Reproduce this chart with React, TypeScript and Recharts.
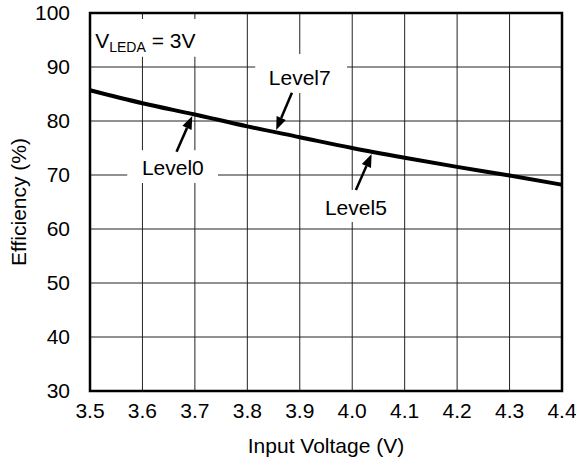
import React from "react"
import {
  LineChart,
  Line,
  XAxis,
  YAxis,
  CartesianGrid,
  ReferenceArea,
  ReferenceLine,
  ReferenceDot,
} from "recharts"

const voltage = [3.5, 3.6, 3.7, 3.8, 3.9, 4.0, 4.1, 4.2, 4.3, 4.4]
const efficiency = [85.7, 83.3, 81.2, 79.0, 77.0, 75.0, 73.2, 71.5, 69.9, 68.2]
const xTicks = [3.5, 3.6, 3.7, 3.8, 3.9, 4.0, 4.1, 4.2, 4.3, 4.4]
const yTicks = [30, 40, 50, 60, 70, 80, 90, 100]

// annotation text: label, x, baseline y (data units)
const noteNames = ["Level7", "Level0", "Level5"]
const noteX = [3.9, 3.658, 4.007]
const noteY = [86.7, 70.0, 62.6]

// white boxes behind the notes: [x1, x2, y1, y2]
const boxes = [
  [3.5, 3.72, 91.9, 98.9],
  [3.815, 3.99, 85.2, 92.4],
  [3.571, 3.744, 68.5, 74.6],
  [3.939, 4.076, 61.3, 67.2],
]

// arrows: tail -> tip
const arrows = [
  [3.885, 85.24, 3.855, 78.33],
  [3.665, 74.31, 3.695, 80.93],
  [4.007, 67.22, 4.037, 73.89],
]

const data = voltage.map((v, i) => ({ v, eff: efficiency[i] }))

const FONT = "'Liberation Sans', Arial, sans-serif"
const FS = 21

const Arrow = (props: any) => {
  const { x1, y1, x2, y2 } = props
  const dx = x2 - x1
  const dy = y2 - y1
  const len = Math.hypot(dx, dy) || 1
  const ux = dx / len
  const uy = dy / len
  const hl = 13
  const hw = 5
  const bx = x2 - ux * hl
  const by = y2 - uy * hl
  return (
    <g>
      <line x1={x1} y1={y1} x2={bx} y2={by} stroke="#000" strokeWidth={2.5} />
      <polygon
        points={`${x2},${y2} ${bx - uy * hw},${by + ux * hw} ${bx + uy * hw},${by - ux * hw}`}
        fill="#000"
      />
    </g>
  )
}

const noteShape = (text: string) => (p: any) => (
  <text x={p.cx} y={p.cy} textAnchor="middle" fontSize={FS} fontFamily={FONT} fill="#000">
    {text}
  </text>
)

const vledaShape = (p: any) => (
  <text x={p.cx} y={p.cy} fontSize={FS} fontFamily={FONT} fill="#000">
    V
    <tspan fontSize={14} dy={4}>LEDA</tspan>
    <tspan dy={-4}> = 3V</tspan>
  </text>
)

export default function App() {
  return (
    <div style={{ position: "absolute", left: 0, top: 0, width: 576, height: 468 }}>
      <LineChart
        width={576}
        height={468}
        data={data}
        margin={{ top: 13, right: 14, bottom: 17, left: 8 }}
      >
        <CartesianGrid stroke="#222" strokeWidth={1} />
        <XAxis
          dataKey="v"
          type="number"
          domain={[3.5, 4.4]}
          ticks={xTicks}
          tickFormatter={(v: number) => v.toFixed(1)}
          axisLine={false}
          tickLine={false}
          tickMargin={6}
          height={60}
          tick={{ fontSize: FS, fontFamily: FONT, fill: "#000" }}
          label={{
            content: ({ viewBox }: any) => (
              <text
                x={viewBox.x + viewBox.width / 2}
                y={viewBox.y + 54}
                textAnchor="middle"
                dominantBaseline="central"
                fontSize={FS}
                fontFamily={FONT}
                fill="#000"
              >
                Input Voltage (V)
              </text>
            ),
          }}
        />
        <YAxis
          type="number"
          domain={[30, 100]}
          ticks={yTicks}
          axisLine={false}
          tickLine={false}
          tickMargin={14}
          width={82}
          tick={{ fontSize: FS, fontFamily: FONT, fill: "#000" }}
          label={{
            content: ({ viewBox }: any) => {
              const cx = viewBox.x + 10
              const cy = viewBox.y + viewBox.height / 2
              return (
                <text
                  x={cx}
                  y={cy}
                  transform={`rotate(-90, ${cx}, ${cy})`}
                  textAnchor="middle"
                  dominantBaseline="central"
                  fontSize={FS}
                  fontFamily={FONT}
                  fill="#000"
                >
                  Efficiency (%)
                </text>
              )
            },
          }}
        />
        {boxes.map((b, i) => (
          <ReferenceArea
            key={"box" + i}
            x1={b[0]}
            x2={b[1]}
            y1={b[2]}
            y2={b[3]}
            fill="#fff"
            fillOpacity={1}
            stroke="none"
            ifOverflow="visible"
          />
        ))}
        <Line
          dataKey="eff"
          type="monotone"
          stroke="#000"
          strokeWidth={4}
          dot={false}
          activeDot={false}
          isAnimationActive={false}
        />
        {arrows.map((a, i) => (
          <ReferenceLine
            key={"arr" + i}
            segment={[
              { x: a[0], y: a[1] },
              { x: a[2], y: a[3] },
            ]}
            shape={Arrow}
            ifOverflow="visible"
          />
        ))}
        {noteNames.map((n, i) => (
          <ReferenceDot
            key={n}
            x={noteX[i]}
            y={noteY[i]}
            r={0}
            shape={noteShape(n)}
            ifOverflow="visible"
          />
        ))}
        <ReferenceDot x={3.51} y={93.5} r={0} shape={vledaShape} ifOverflow="visible" />
        <ReferenceArea
          x1={3.5}
          x2={4.4}
          y1={30}
          y2={100}
          fill="none"
          stroke="#000"
          strokeWidth={2.5}
          ifOverflow="visible"
        />
      </LineChart>
    </div>
  )
}
